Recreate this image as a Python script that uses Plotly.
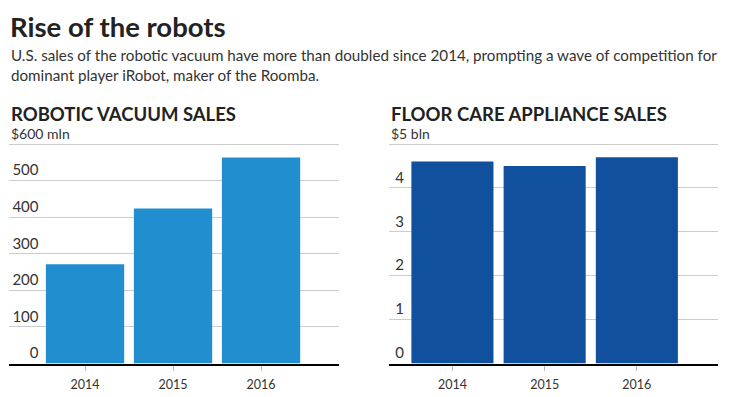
import plotly.graph_objects as go

years = ["2014", "2015", "2016"]
vacuum_sales_mln = [271, 424, 563]
floorcare_sales_bln = [4.60, 4.50, 4.70]

vac_tickvals = [0, 100, 200, 300, 400, 500, 600]
vac_ticktext = ["0", "100", "200", "300", "400", "500", ""]
floor_tickvals = [0, 1, 2, 3, 4, 5]
floor_ticktext = ["0", "1", "2", "3", "4", ""]

title = "Rise of the robots"
subtitle = ("U.S. sales of the robotic vacuum have more than doubled since 2014, prompting a wave of competition for"
            "<br>dominant player iRobot, maker of the Roomba.")
left_header = "ROBOTIC VACUUM SALES"
right_header = "FLOOR CARE APPLIANCE SALES"
left_unit = "$600 mln"
right_unit = "$5 bln"

# page body has an 8px margin; lay out in window pixel coordinates
OFF = 8
W, H = 732 - OFF, 397 - OFF
def px(x):
    return (x - OFF) / W
def py(y):
    return (H - (y - OFF)) / H

FONT = "Lato"
TXT = "#333333"

fig = go.Figure()
fig.add_trace(go.Bar(x=years, y=vacuum_sales_mln, marker=dict(color="#218fcf", line=dict(width=0)),
                     xaxis="x", yaxis="y", hoverinfo="skip"))
fig.add_trace(go.Bar(x=years, y=floorcare_sales_bln, marker=dict(color="#10509c", line=dict(width=0)),
                     xaxis="x2", yaxis="y2", hoverinfo="skip"))

base_px, top_grid_px, dom_top_px = 363.5, 144.0, 141.0
ydom = [py(base_px), py(dom_top_px)]
vac_top = 600 * (base_px - dom_top_px) / (base_px - top_grid_px)
floor_top = 5 * (base_px - dom_top_px) / (base_px - top_grid_px)

common_x = dict(type="category", showline=True, linecolor="black", linewidth=2,
                ticks="outside", ticklen=5, tickcolor="#bbbbbb", tickwidth=1,
                tickfont=dict(family=FONT, size=12.5, color=TXT), showgrid=False,
                zeroline=False, fixedrange=True, ticklabelstandoff=3)
common_y = dict(showgrid=True, gridcolor="#cccccc", gridwidth=1, zeroline=False,
                showline=False, ticks="", tickfont=dict(family=FONT, size=15, color=TXT),
                ticklabelposition="outside top", anchor="free", domain=ydom, fixedrange=True)

fig.update_layout(
    width=W, height=H, margin=dict(l=0, r=0, t=0, b=0),
    paper_bgcolor="white", plot_bgcolor="white", showlegend=False, bargap=0.11,
    xaxis=dict(common_x, domain=[px(9), px(339)], range=[-0.864, 2.886], anchor="y"),
    yaxis=dict(common_y, range=[0, vac_top], tickvals=vac_tickvals, ticktext=vac_ticktext,
               position=px(38.5)),
    xaxis2=dict(common_x, domain=[px(389), px(718)], range=[-0.688, 2.88], anchor="y2"),
    yaxis2=dict(common_y, range=[0, floor_top], tickvals=floor_tickvals, ticktext=floor_ticktext,
                position=px(404)),
)

ann = [
    dict(text="<b>" + title + "</b>", x=px(8), y=1, xanchor="left", yanchor="top",
         font=dict(family=FONT, size=27.5, color="#222222")),
    dict(text=subtitle, x=px(9), y=py(44), xanchor="left", yanchor="top", align="left",
         font=dict(family=FONT, size=15.2, color=TXT)),
    dict(text="<b>" + left_header + "</b>", x=px(9), y=py(101), xanchor="left", yanchor="top",
         font=dict(family=FONT, size=18.5, color="#222222")),
    dict(text="<b>" + right_header + "</b>", x=px(389), y=py(101), xanchor="left", yanchor="top",
         font=dict(family=FONT, size=18.5, color="#222222")),
    dict(text=left_unit, xref="paper", yref="y", x=px(9), y=600, xanchor="left", yanchor="bottom",
         font=dict(family=FONT, size=14, color=TXT)),
    dict(text=right_unit, xref="paper", yref="y2", x=px(389), y=5, xanchor="left", yanchor="bottom",
         font=dict(family=FONT, size=14, color=TXT)),
]
for a in ann:
    a.setdefault("xref", "paper")
    a.setdefault("yref", "paper")
    a["showarrow"] = False
fig.update_layout(annotations=ann)

fig.write_html("out.html")
